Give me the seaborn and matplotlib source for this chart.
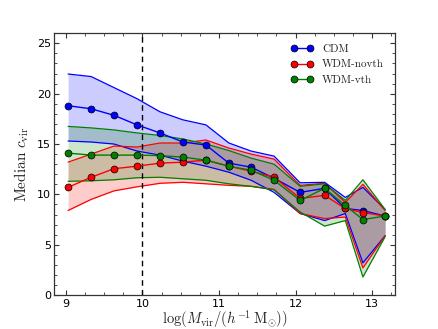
import numpy as np
import pandas as pd
import matplotlib
matplotlib.use("Agg")
import matplotlib.pyplot as plt
import seaborn as sns
from matplotlib.ticker import MultipleLocator

# ---- data ----
log_mass = [9.03, 9.33, 9.63, 9.93, 10.23, 10.53, 10.83, 11.13, 11.42, 11.72,
            12.06, 12.38, 12.65, 12.88, 13.17]

cdm_median = [18.8, 18.5, 17.85, 16.9, 16.1, 15.2, 14.9, 13.1, 12.7, 11.6,
              10.2, 10.6, 8.6, 8.4, 7.85]
cdm_upper = [21.95, 21.7, 20.6, 19.5, 18.2, 17.4, 16.9, 15.1, 14.3, 13.8,
             11.15, 11.2, 9.7, 10.7, 8.5]
cdm_lower = [15.3, 15.2, 15.0, 14.3, 13.9, 13.3, 12.8, 12.2, 11.4, 10.2,
             8.1, 7.4, 8.1, 3.2, 5.9]

novth_median = [10.7, 11.7, 12.55, 12.8, 13.1, 13.2, 13.4, 12.8, 12.3, 11.7,
                9.6, 9.9, 8.6, 8.2, 7.85]
novth_upper = [13.2, 14.0, 14.8, 14.7, 15.1, 15.1, 15.4, 14.6, 14.0, 13.5,
               10.9, 11.1, 9.2, 11.0, 8.4]
novth_lower = [8.4, 9.5, 10.35, 10.75, 11.1, 11.2, 11.05, 10.9, 10.8, 10.5,
               8.1, 7.6, 7.75, 2.7, 5.9]

vth_median = [14.1, 13.9, 13.9, 13.9, 13.85, 13.7, 13.4, 12.8, 12.4, 11.4,
              9.4, 10.6, 8.9, 7.5, 7.85]
vth_upper = [16.75, 16.6, 16.4, 16.1, 15.85, 15.5, 15.0, 14.35, 13.6, 13.0,
             10.8, 11.05, 9.4, 11.45, 8.5]
vth_lower = [11.3, 11.35, 11.45, 11.65, 11.7, 11.55, 11.4, 11.05, 10.8, 10.45,
             8.25, 6.85, 7.4, 1.8, 5.8]

series_names = ["CDM", "WDM-novth", "WDM-vth"]
series_colors = ["#0000ff", "#ff0000", "#008000"]

# ---- plot ----
sns.set_style("ticks")
plt.rcParams["mathtext.fontset"] = "cm"
plt.rcParams["font.family"] = ["DejaVu Sans"]

fig = plt.figure(figsize=(4.38, 3.29), dpi=100)
ax = fig.add_axes([0.124, 0.103, 0.778, 0.796])

bands = [(cdm_median, cdm_upper, cdm_lower),
         (novth_median, novth_upper, novth_lower),
         (vth_median, vth_upper, vth_lower)]

for name, col, (med, up, lo) in zip(series_names, series_colors, bands):
    ax.fill_between(log_mass, lo, up, color=col, alpha=0.2, linewidth=0)
    ax.plot(log_mass, up, color=col, lw=0.9)
    ax.plot(log_mass, lo, color=col, lw=0.9)

for name, col, (med, up, lo) in zip(series_names, series_colors, bands):
    df = pd.DataFrame({"x": log_mass, "y": med})
    sns.lineplot(data=df, x="x", y="y", ax=ax, color=col, lw=1.0,
                 marker="o", markersize=5, markeredgecolor="black",
                 markeredgewidth=0.5, label=name, zorder=5)

ax.axvline(10.0, color="black", ls=(0, (4, 3)), lw=1.0)

ax.set_xlim(8.85, 13.3)
ax.set_ylim(0, 26)
ax.xaxis.set_major_locator(MultipleLocator(1))
ax.xaxis.set_minor_locator(MultipleLocator(0.25))
ax.yaxis.set_major_locator(MultipleLocator(5))
ax.yaxis.set_minor_locator(MultipleLocator(1))
ax.tick_params(which="both", direction="in", top=True, right=True,
               labelsize=8, colors="#333333", labelcolor="black")
ax.tick_params(which="major", length=3.8, width=0.8, pad=2.5)
ax.tick_params(which="minor", length=2, width=0.6)
for s in ax.spines.values():
    s.set_color("#333333")
    s.set_linewidth(0.9)

ax.set_xlabel(r"$\log(M_{\rm vir}/(h^{-1}\,\mathrm{M}_{\odot}))$", fontsize=10.5, labelpad=-0.5)
ax.set_ylabel(r"$\mathrm{Median}\ c_{\rm vir}$", fontsize=11, labelpad=4)

leg = ax.legend(loc="upper right", frameon=False, numpoints=2,
                prop={"family": "cmr10", "size": 8}, handlelength=2.0,
                handletextpad=0.8, labelspacing=0.5, borderaxespad=0.6)

fig.savefig("out.png", dpi=100, facecolor="white")
